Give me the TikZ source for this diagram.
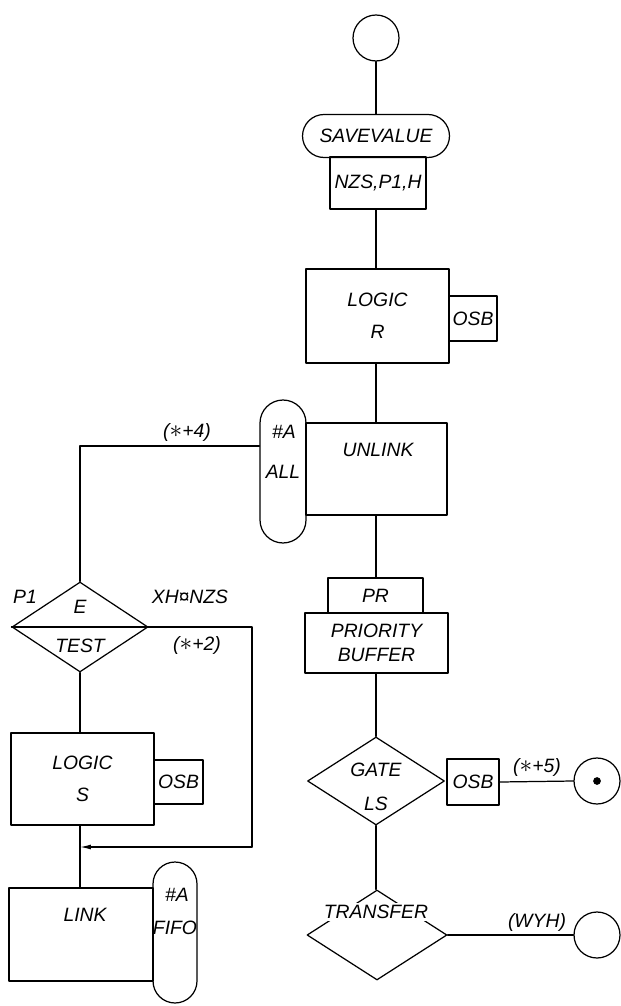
\documentclass[tikz,border=0pt]{standalone}
\usepackage{fontspec}
\setsansfont{Liberation Sans}
\usetikzlibrary{shapes.geometric,arrows.meta}
\newcommand{\bigstar}{\raisebox{-0.5pt}{\fontsize{14}{14}\selectfont$*$}}
\begin{document}
\begin{tikzpicture}[x=0.02cm,y=-0.02cm,line cap=round,line join=round,line width=0.7pt,
  every node/.style={font=\sffamily\itshape\fontsize{11}{14}\selectfont,inner sep=1pt},
  blk/.style={draw,rectangle,align=center},
  pill/.style={draw,rectangle,rounded corners=#1},
  dmd/.style={draw,diamond,inner sep=0pt},
  ring/.style={draw,circle,minimum size=0.92cm,inner sep=0pt}]
\useasboundingbox (0,0) rectangle (621,1006);

% main column
\node[ring] (start) at (376,38) {};
\node[pill=0.43cm,minimum width=2.94cm,minimum height=0.86cm] (save) at (376,136) {SAVEVALUE};
\node[blk,minimum width=1.92cm,minimum height=1.04cm] (nzs) at (378,183) {NZS,P1,H};
\node[blk,minimum width=2.86cm,minimum height=1.88cm] (logicR) at (377.5,316) {LOGIC\\[4pt]R};
\node[blk,minimum width=0.96cm,minimum height=0.9cm] (osbR) at (473,318.5) {OSB};
\node[blk,minimum width=2.82cm,minimum height=1.84cm] (unlink) at (376.5,469) {};
\node (unlinktxt) at (378,450) {UNLINK};
\node[pill=0.46cm,minimum width=0.92cm,minimum height=2.86cm] (allbox) at (283,471.5) {};
\node (alla) at (284,432) {\#A};
\node (allb) at (283,472) {ALL};
\node[blk,minimum width=1.9cm,minimum height=0.7cm] (pr) at (375.5,595.5) {PR};
\node[blk,minimum width=2.86cm,minimum height=1.2cm] (buffer) at (376.5,643) {PRIORITY\\BUFFER};
\node[dmd,minimum width=2.74cm,minimum height=1.76cm] (gate) at (376,781) {};
\node (gatea) at (376,770) {GATE};
\node (gateb) at (376,804) {LS};
\node[blk,minimum width=1.04cm,minimum height=0.92cm] (osbG) at (473,782) {OSB};
\node[ring] (dotc) at (597,781) {};
\fill (dotc) circle (2.2pt);
\node (lbl5) at (537,767) {(\bigstar+5)};
\node[dmd,minimum width=2.8cm,minimum height=1.8cm] (transfer) at (377,935) {};
\node[fill=white] (transfertxt) at (376,912) {TRANSFER};
\node[ring] (endc) at (597,935) {};
\node (lblwyh) at (537,922) {(WYH)};

% left column
\coordinate (turn4) at (80,446);
\node (lbl4) at (187,432) {(\bigstar+4)};
\node[dmd,minimum width=2.72cm,minimum height=1.8cm] (test) at (80,627) {};
\node (teste) at (80,607) {E};
\node (testt) at (80,646) {TEST};
\node (lblp1) at (25,597) {P1};
\node (lblxh) at (190,597) {XH¤NZS};
\node (lbl2) at (197,645) {(\bigstar+2)};
\coordinate (loopa) at (252,627);
\coordinate (loopb) at (252,847);
\coordinate (join) at (80,847);
\node[blk,minimum width=2.86cm,minimum height=1.84cm] (logicS) at (82.5,779) {LOGIC\\[4pt]S};
\node[blk,minimum width=0.98cm,minimum height=0.88cm] (osbS) at (178.5,782) {OSB};
\node[blk,minimum width=2.88cm,minimum height=1.86cm] (link) at (81,934.5) {};
\node (linktxt) at (85,915) {LINK};
\node[pill=0.44cm,minimum width=0.88cm,minimum height=2.82cm] (fifo) at (175,932.5) {};
\node (fifoa) at (177,895) {\#A};
\node (fifob) at (175,928) {FIFO};

\draw (start.south) -- (save.north);
\draw (nzs.south -| start.south) -- (logicR.north -| start.south);
\draw (logicR.south -| start.south) -- (unlink.north -| start.south);
\draw (unlink.south -| start.south) -- (pr.north -| start.south);
\draw (buffer.south -| gate.north) -- (gate.north);
\draw (gate.south) -- (transfer.north -| gate.south);
\draw (osbG.east) -- (dotc.west);
\draw (transfer.east) -- (endc.west);

\draw (allbox.west |- turn4) -- (turn4) -- (test.north);
\draw (test.west) -- (test.east) -- (loopa) -- (loopb);
\draw[-{Latex[length=2.2mm,width=1mm]}] (loopb) -- (join);
\draw (test.south) -- (test.south |- logicS.north);
\draw (logicS.south -| test.south) -- (link.north -| test.south);
\end{tikzpicture}
\end{document}
